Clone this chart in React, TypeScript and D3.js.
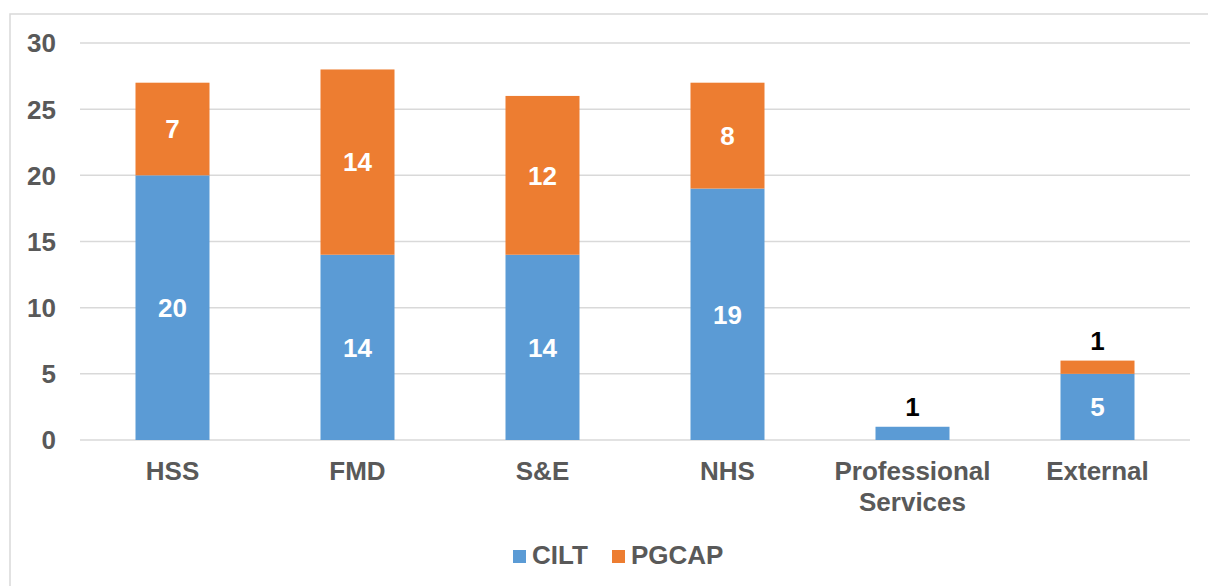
import React from "react";
import * as d3 from "d3";

const categories = ["HSS", "FMD", "S&E", "NHS", "Professional Services", "External"];
const cilt = [20, 14, 14, 19, 1, 5];
const pgcap = [7, 14, 12, 8, 0, 1];
const yTicks = [0, 5, 10, 15, 20, 25, 30];
const seriesNames = ["CILT", "PGCAP"];
const colors = ["#5B9BD5", "#ED7D31"];

const width = 1208;
const height = 586;
const margin = { top: 43, right: 18, bottom: 146, left: 80 };
const font = "'Liberation Sans', Arial, sans-serif";

const App = () => {
  const x = d3
    .scaleBand()
    .domain(categories)
    .range([margin.left, width - margin.right])
    .paddingInner(0.6)
    .paddingOuter(0.3);

  const y = d3
    .scaleLinear()
    .domain([0, 30])
    .range([height - margin.bottom, margin.top]);

  const rows = categories.map((c, i) => ({ cat: c, CILT: cilt[i], PGCAP: pgcap[i] }));
  const stacked = d3.stack<any>().keys(seriesNames)(rows);

  return (
    <svg
      width={width}
      height={height}
      style={{ position: "absolute", left: 0, top: 0, background: "#fff" }}
      fontFamily={font}
    >
      {/* chart frame */}
      <rect x={10} y={14} width={width} height={height} fill="none" stroke="#D9D9D9" strokeWidth={1.5} />

      {yTicks.map((t) => (
        <g key={t}>
          <line x1={margin.left} x2={width - margin.right} y1={y(t)} y2={y(t)} stroke="#D9D9D9" strokeWidth={1.5} />
          <text x={56} y={y(t)} dy="0.36em" textAnchor="end" fontSize={26} fontWeight="bold" fill="#595959">
            {t}
          </text>
        </g>
      ))}

      {stacked.map((s, si) =>
        s.map((d, i) => {
          const v = d[1] - d[0];
          if (v <= 0) return null;
          const cat = categories[i];
          const x0 = x(cat)!;
          const top = y(d[1]);
          const h = y(d[0]) - y(d[1]);
          const cx = x0 + x.bandwidth() / 2;
          const small = h < 30;
          return (
            <g key={`${si}-${i}`}>
              <rect x={x0} y={top} width={x.bandwidth()} height={h} fill={colors[si]} />
              <text
                x={cx}
                y={small ? top + h / 2 - 27 : top + h / 2}
                dy="0.36em"
                textAnchor="middle"
                fontSize={26}
                fontWeight="bold"
                fill={small ? "#000" : "#fff"}
              >
                {v}
              </text>
            </g>
          );
        })
      )}

      {categories.map((c) => {
        const words = c === "Professional Services" ? ["Professional", "Services"] : [c];
        return (
          <text key={c} x={x(c)! + x.bandwidth() / 2} y={480} textAnchor="middle" fontSize={26} fontWeight="bold" fill="#595959">
            {words.map((w, wi) => (
              <tspan key={w} x={x(c)! + x.bandwidth() / 2} dy={wi === 0 ? 0 : 31}>
                {w}
              </tspan>
            ))}
          </text>
        );
      })}

      {/* legend */}
      <g>
        <rect x={513} y={550} width={13} height={13} fill={colors[0]} />
        <text x={532} y={564} fontSize={26} fontWeight="bold" fill="#595959">CILT</text>
        <rect x={612} y={550} width={13} height={13} fill={colors[1]} />
        <text x={631} y={564} fontSize={26} fontWeight="bold" fill="#595959">PGCAP</text>
      </g>
    </svg>
  );
};

export default App;
